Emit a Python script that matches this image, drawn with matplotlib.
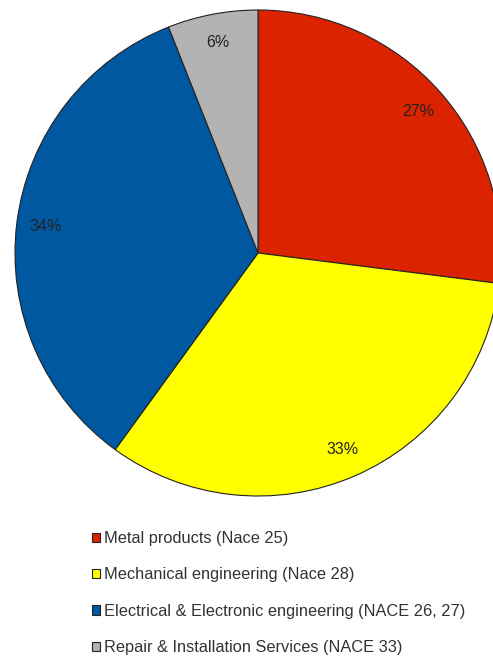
import matplotlib.pyplot as plt
from matplotlib.patches import Patch

plt.rcParams['font.family'] = ['Liberation Sans', 'DejaVu Sans']

# sectors, clockwise from 12 o'clock
labels = ['Metal products (Nace 25)', 'Mechanical engineering (Nace 28)',
          'Electrical & Electronic engineering (NACE 26, 27)',
          'Repair & Installation Services (NACE 33)']
shares = [27, 33, 34, 6]
colors = ['#DC2300', '#FFFF00', '#0058A0', '#B3B3B3']

fig = plt.figure(figsize=(4.93, 6.59), dpi=100)
ax = fig.add_axes([15 / 493, (659 - 496) / 659, 486 / 493, 486 / 659])

wedges, texts = ax.pie(shares, colors=colors, startangle=90, counterclock=False,
                       labels=[f'{v}%' for v in shares], labeldistance=0.88,
                       wedgeprops=dict(edgecolor='#222222', linewidth=0.8),
                       textprops=dict(fontsize=11.5, color='#222222'))
for t in texts:
    t.set_ha('center')
    t.set_va('center')
ax.set_xlim(-1, 1)
ax.set_ylim(-1, 1)
ax.set_aspect('equal')
ax.axis('off')

handles = [Patch(facecolor=c, edgecolor='#222222', linewidth=0.8) for c in colors]
fig.legend(handles, labels, loc='upper left', bbox_to_anchor=(84 / 493, 1 - 523 / 659),
           frameon=False, fontsize=11.8, labelcolor='#333333', handlelength=0.5,
           handleheight=0.5, handletextpad=0.2, labelspacing=1.3, borderpad=0)

fig.savefig('out.png', dpi=100)
